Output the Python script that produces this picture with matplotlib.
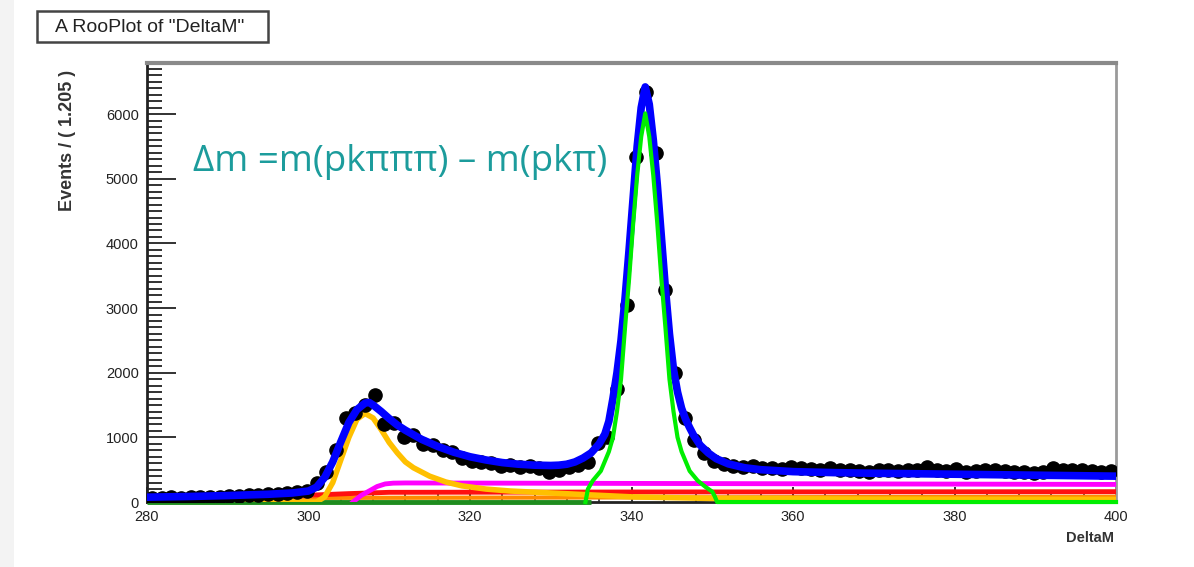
import matplotlib
matplotlib.use("Agg")
import matplotlib.pyplot as plt
from matplotlib.ticker import MultipleLocator
import numpy as np

# binned data: 100 bins of 1.2 between 280 and 400
bin_lo = 280.0
bin_w = 1.2
events = [55, 60, 70, 65, 75, 80, 85, 85, 95, 100,
          105, 110, 120, 130, 140, 150, 175, 290, 470, 800,
          1300, 1380, 1500, 1660, 1200, 1220, 1000, 1040, 900, 880,
          800, 780, 680, 630, 620, 600, 560, 580, 540, 560,
          530, 470, 500, 540, 580, 620, 920, 1000, 1750, 3050,
          5340, 6340, 5400, 3280, 1990, 1300, 960, 760, 640, 590,
          560, 540, 560, 530, 520, 510, 540, 520, 510, 500,
          520, 490, 500, 480, 470, 490, 500, 480, 490, 500,
          540, 500, 480, 510, 470, 480, 500, 490, 480, 470,
          460, 450, 470, 530, 500, 490, 490, 480, 470, 480]

# total fit (blue)
tot_x = [280, 285, 290, 295, 298, 300, 301, 302, 303, 304, 305, 306, 307, 307.5, 308,
         309, 310, 311, 312, 313, 314, 316, 318, 320, 322, 324, 326, 328, 330, 331,
         332, 333, 334, 335, 336, 336.7, 337.2, 337.7, 338.2, 338.7, 339.2, 339.7,
         340.2, 340.7, 341.2, 341.7, 342.2, 342.7, 343.2, 343.7, 344.2, 344.7, 345.2,
         345.7, 346.2, 346.7, 347.2, 347.7, 348.5, 349.5, 350.5, 352, 354, 356, 360,
         365, 370, 380, 390, 400]
tot_y = [75, 85, 100, 120, 140, 170, 230, 380, 620, 930, 1230, 1430, 1530, 1540, 1500,
         1400, 1290, 1190, 1110, 1040, 970, 860, 770, 700, 650, 610, 585, 570, 565, 570,
         585, 620, 680, 760, 900, 1050, 1250, 1600, 2000, 2500, 3150, 3900,
         4700, 5500, 6100, 6420, 6150, 5600, 4900, 4100, 3300, 2600, 2050,
         1700, 1450, 1280, 1150, 1030, 880, 760, 670, 590, 530, 500, 470,
         455, 445, 430, 415, 400]

# signal peak (green)
sig_x = [334.3, 334.6, 335.2, 336.2, 337.2, 337.7, 338.2, 338.7, 339.2, 339.7, 340.2,
         340.7, 341.2, 341.7, 342.2, 342.7, 343.2, 343.7, 344.2, 344.7, 345.2, 345.7,
         346.2, 347.2, 348.2, 349.2, 350.0, 350.3, 350.6, 400]
sig_y = [0, 200, 330, 480, 780, 1000, 1400, 1900, 2700, 3450, 4300,
         5050, 5650, 6010, 5650, 5050, 4300, 3450, 2700, 1900, 1400, 1000,
         780, 480, 330, 230, 160, 90, 0, 0]

# second peak (yellow)
peak2_x = [280, 301, 302, 303, 304, 305, 306, 307, 308, 309, 310, 311, 312, 313, 315,
           317, 319, 322, 325, 330, 335, 340, 350, 370, 400]
peak2_y = [0, 0, 80, 300, 650, 1000, 1280, 1370, 1300, 1120, 920, 760, 620, 530, 400,
           310, 250, 200, 170, 140, 110, 80, 55, 45, 40]

# background components
bkg_m_x = [305.5, 306.5, 307.5, 308.5, 309.5, 310.5, 312, 400]
bkg_m_y = [0, 100, 170, 240, 280, 292, 295, 272]
bkg_r_x = [280, 295, 301, 305, 310, 340, 400]
bkg_r_y = [95, 100, 110, 130, 150, 155, 160]
bkg_o_x = [280, 400]
bkg_o_y = [60, 82]
base_x = [280, 335]
base_y = [0, 0]
olive_x = [280, 301.5]
olive_y = [25, 25]

centers = np.arange(len(events)) * bin_w + bin_lo + bin_w / 2

W, H = 1194, 567
fig = plt.figure(figsize=(W / 100, H / 100), dpi=100)
# light slide edge on the far left
fig.patches.append(plt.Rectangle((0, 0), 14 / W, 1, transform=fig.transFigure,
                                 facecolor="#f3f3f3", edgecolor="none"))
# title box
fig.patches.append(plt.Rectangle((37 / W, 1 - 42 / H), 231 / W, 31 / H, transform=fig.transFigure,
                                 facecolor="white", edgecolor="#444444", linewidth=1.8))
ax = fig.add_axes([0.1231, 0.1146, 0.8116, 0.7743])

ax.plot(base_x, base_y, color="#1e8c1e", lw=3.5, zorder=3, clip_on=False, solid_capstyle="butt")
ax.plot(olive_x, olive_y, color="#9a8814", lw=6, zorder=3, solid_capstyle="butt")
ax.plot(bkg_o_x, bkg_o_y, color="#ff8a00", lw=3, zorder=3)
ax.plot(bkg_r_x, bkg_r_y, color="#ff1010", lw=3.5, zorder=3)
ax.plot(bkg_m_x, bkg_m_y, color="#ff00ff", lw=3.5, zorder=3)
ax.plot(peak2_x, peak2_y, color="#ffc000", lw=4, zorder=4)
ax.plot(centers, events, "o", color="black", ms=9.5, zorder=5)
ax.plot(tot_x, tot_y, color="#0000ff", lw=5.5, zorder=6)
ax.plot(sig_x, sig_y, color="#00ee00", lw=3, zorder=7, clip_on=False)

ax.set_xlim(280, 400)
ax.set_ylim(0, 6790)

ax.xaxis.set_major_locator(MultipleLocator(20))
ax.xaxis.set_minor_locator(MultipleLocator(4))
ax.yaxis.set_major_locator(MultipleLocator(1000))
ax.yaxis.set_minor_locator(MultipleLocator(100))
ax.tick_params(axis="both", which="both", direction="in", colors="#222222", labelsize=10.5, width=1.3)
ax.tick_params(axis="y", which="major", length=21, pad=6)
ax.tick_params(axis="y", which="minor", length=11, width=1.3)
ax.tick_params(axis="x", which="major", length=11, pad=6)
ax.tick_params(axis="x", which="minor", length=6, width=1.1)
for lab in ax.get_xticklabels() + ax.get_yticklabels():
    lab.set_family("Liberation Sans")

for side in ("left", "bottom"):
    ax.spines[side].set_linewidth(2)
    ax.spines[side].set_color("#222222")
ax.spines["top"].set_linewidth(3)
ax.spines["top"].set_color("#8a8a8a")
ax.spines["right"].set_linewidth(2)
ax.spines["right"].set_color("#9a9a9a")

fig.text(67 / W, 1 - 140 / H, "Events / ( 1.205 )", rotation=90, ha="center", va="center",
         fontsize=13, fontweight="bold", color="#333333", family="Liberation Sans")
fig.text(1114 / W, 1 - 538 / H, "DeltaM", ha="right", va="center",
         fontsize=10.5, fontweight="bold", color="#333333", family="Liberation Sans")

fig.text(150 / W, 1 - 27 / H, 'A RooPlot of "DeltaM"', ha="center", va="center",
         fontsize=14, color="#222222", family="Liberation Sans")

ax.text(193 / W, 1 - 162 / H, "Δm =m(pkπππ) – m(pkπ)", transform=fig.transFigure,
        ha="left", va="center", fontsize=26.5, color="#1c9c9c", family=["Open Sans", "DejaVu Sans"])

fig.savefig("out.png", dpi=100)
